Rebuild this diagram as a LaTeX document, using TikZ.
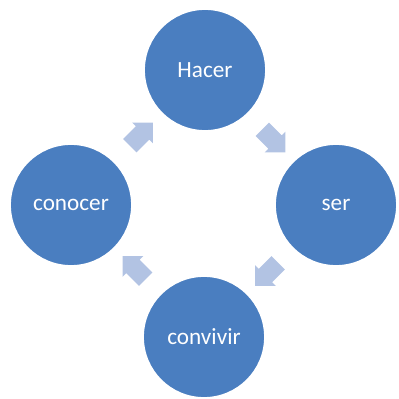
\documentclass[tikz,border=0pt]{standalone}
\usepackage{fontspec}
\setmainfont{Carlito}
\usepackage{tikz}
\usetikzlibrary{calc, shapes, shapes.arrows, arrows, positioning}
\definecolor{ballblue}{HTML}{4A7EC0}
\definecolor{flowblue}{HTML}{B2C3E3}
\tikzset{
	ball/.style={circle, fill=ballblue, draw=white, line width=1.3pt, minimum size=3.05cm, inner sep=0pt, text=white, font=\fontsize{16.5}{19}\selectfont},
	flow/.style={single arrow, fill=flowblue, draw=none, minimum height=.82cm, inner xsep=0pt, inner ysep=.23cm, single arrow head extend=.13cm}
}

\begin{document}
\begin{tikzpicture}
	\useasboundingbox (0,0) rectangle (9.975,9.975);
	\node[ball] (hacer) at (5.125,8.225) {Hacer};
	\node[ball] (ser) at (8.4,4.85) {ser};
	\node[ball] (convivir) at (5.1,1.55) {convivir};
	\node[ball] (conocer) at (1.775,4.85) {conocer};

	% --- cycle arrows ---
	\node[flow, rotate=-45] (a1) at ($(hacer)!.5!(ser)$) {};
	\node[flow, rotate=-135] (a2) at ($(ser)!.5!(convivir)$) {};
	\node[flow, rotate=135] (a3) at ($(convivir)!.5!(conocer)$) {};
	\node[flow, rotate=45] (a4) at ($(conocer)!.5!(hacer)$) {};
\end{tikzpicture}
\end{document}
